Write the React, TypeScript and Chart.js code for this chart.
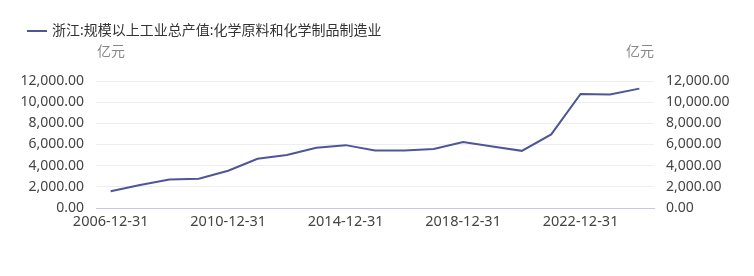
import React, { useEffect, useRef } from "react";
import { Chart, registerables } from "chart.js";

Chart.register(...registerables);

const categories: string[] = [
  "2006-12-31", "2007-12-31", "2008-12-31", "2009-12-31", "2010-12-31",
  "2011-12-31", "2012-12-31", "2013-12-31", "2014-12-31", "2015-12-31",
  "2016-12-31", "2017-12-31", "2018-12-31", "2019-12-31", "2020-12-31",
  "2021-12-31", "2022-12-31", "2023-12-31", "2024-12-31",
];

const seriesValues: number[] = [
  1590, 2170, 2700, 2760, 3520, 4650, 5000, 5690, 5940, 5440,
  5430, 5570, 6230, 5810, 5400, 6950, 10780, 10720, 11280,
];

const seriesName = "浙江:规模以上工业总产值:化学原料和化学制品制造业";
const unitLabel = "亿元";
const yTicks: number[] = [0, 2000, 4000, 6000, 8000, 10000, 12000];

const FONT = "'Noto Sans', 'Noto Sans CJK SC', sans-serif";
const LINE_COLOR = "#4f5597";

const fmt = (v: number) =>
  v.toLocaleString("en-US", { minimumFractionDigits: 2, maximumFractionDigits: 2 });

const overlayPlugin = {
  id: "overlay",
  afterDraw(chart: any) {
    const ctx = chart.ctx;
    const area = chart.chartArea;
    ctx.save();
    // legend
    ctx.strokeStyle = LINE_COLOR;
    ctx.lineWidth = 2;
    ctx.beginPath();
    ctx.moveTo(27, 31);
    ctx.lineTo(47, 31);
    ctx.stroke();
    ctx.fillStyle = "#333333";
    ctx.font = `14px ${FONT}`;
    ctx.textBaseline = "middle";
    ctx.textAlign = "left";
    ctx.fillText(seriesName, 52, 31);
    // units
    ctx.fillStyle = "#888888";
    ctx.textAlign = "left";
    ctx.fillText(unitLabel, area.left + 1, 52);
    ctx.textAlign = "right";
    ctx.fillText(unitLabel, area.right, 52);
    ctx.restore();
  },
};

export default function App() {
  const canvasRef = useRef<HTMLCanvasElement | null>(null);

  useEffect(() => {
    if (!canvasRef.current) return;
    const tickFont = { family: FONT, size: 14 };
    const chart = new Chart(canvasRef.current, {
      type: "line",
      data: {
        labels: categories,
        datasets: [
          {
            label: seriesName,
            data: seriesValues,
            borderColor: LINE_COLOR,
            backgroundColor: LINE_COLOR,
            borderWidth: 2,
            pointRadius: 0,
            tension: 0,
            yAxisID: "y",
          },
        ],
      },
      options: {
        animation: false,
        responsive: false,
        maintainAspectRatio: false,
        layout: { padding: { top: 81, left: 0, right: 0, bottom: 0 } },
        plugins: {
          legend: { display: false },
          tooltip: { enabled: false },
        },
        scales: {
          x: {
            type: "category",
            offset: true,
            grid: { display: false, drawTicks: false },
            border: { display: true, color: "#c9c9de", width: 1 },
            ticks: {
              autoSkip: false,
              maxRotation: 0,
              padding: 5,
              color: "#444444",
              font: { family: FONT, size: 14.5 },
              callback: (_v: any, i: number) => (i % 4 === 0 ? categories[i] : ""),
            },
            afterFit: (s: any) => {
              s.height = 68;
            },
          },
          y: {
            position: "left",
            min: 0,
            max: 12000,
            afterBuildTicks: (s: any) => {
              s.ticks = yTicks.map((v) => ({ value: v }));
            },
            grid: { color: "#eeeeee", drawTicks: false },
            border: { display: false },
            ticks: {
              padding: 12,
              color: "#444444",
              font: tickFont,
              callback: (v: any) => fmt(Number(v)),
            },
            afterFit: (s: any) => {
              s.width = 96;
            },
          },
          y2: {
            position: "right",
            min: 0,
            max: 12000,
            afterBuildTicks: (s: any) => {
              s.ticks = yTicks.map((v) => ({ value: v }));
            },
            grid: { display: false, drawTicks: false },
            border: { display: false },
            ticks: {
              padding: 12,
              color: "#444444",
              font: tickFont,
              callback: (v: any) => fmt(Number(v)),
            },
            afterFit: (s: any) => {
              s.width = 100;
            },
          },
        },
      },
      plugins: [overlayPlugin],
    });
    return () => chart.destroy();
  }, []);

  return (
    <div style={{ position: "fixed", left: 0, top: 0, width: 754, height: 276, background: "#ffffff" }}>
      <canvas ref={canvasRef} width={754} height={276} style={{ width: 754, height: 276, display: "block" }} />
    </div>
  );
}
